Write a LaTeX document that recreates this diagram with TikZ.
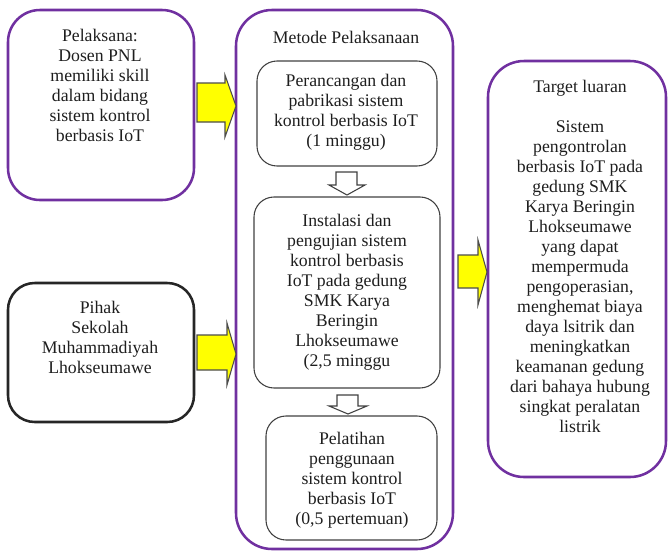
\documentclass[tikz,border=0pt]{standalone}
\usepackage{fontspec}
\setmainfont{Liberation Serif}
\definecolor{boxpurple}{RGB}{112,48,160}
\definecolor{arrowyellow}{RGB}{255,255,0}
\definecolor{txtgray}{RGB}{30,30,30}
\begin{document}
\begin{tikzpicture}[x=0.75pt,y=-0.75pt,
  txt/.style={font=\fontsize{13.3}{15}\selectfont, align=center, inner sep=0pt, anchor=north, text=txtgray},
  purplebox/.style={draw=boxpurple, line width=1.9pt, rounded corners=24pt, inner sep=0pt},
  blackbox/.style={draw=black!85, line width=1.9pt, rounded corners=20pt, inner sep=0pt},
  innerbox/.style={draw=black!75, line width=0.8pt, rounded corners=15pt, inner sep=0pt},
  yarrow/.style={draw=black!70, fill=arrowyellow, line width=0.8pt, line join=miter},
  darrow/.style={draw=black!75, fill=white, line width=0.8pt, line join=miter}]
\useasboundingbox (0,0) rectangle (668,551);
% boxes
\node[purplebox, minimum width=139.5pt, minimum height=142.5pt] (boxA) at (101,105) {};
\node[blackbox, minimum width=139.5pt, minimum height=104.25pt] (boxB) at (101,352.5) {};
\node[purplebox, rounded corners=27pt, minimum width=162.75pt, minimum height=404.25pt] (main) at (344.5,279.5) {};
\node[innerbox, minimum width=135pt, minimum height=78.75pt] (in1) at (347,113.5) {};
\node[innerbox, minimum width=139.5pt, minimum height=143.25pt] (in2) at (347,292.5) {};
\node[innerbox, minimum width=128.25pt, minimum height=93pt] (in3) at (351.5,478) {};
\node[purplebox, rounded corners=27pt, minimum width=133.5pt, minimum height=312pt] (target) at (577,269) {};
% texts
\node[txt] (tA) at (100,29) {Pelaksana:\\Dosen PNL\\memiliki skill\\dalam bidang\\sistem kontrol\\berbasis IoT};
\node[txt] (tB) at (100,301) {Pihak\\Sekolah\\Muhammadiyah\\Lhokseumawe};
\node[txt] (tM) at (346,31) {Metode Pelaksanaan};
\node[txt] (t1) at (346,74) {Perancangan dan\\pabrikasi sistem\\kontrol berbasis IoT\\(1 minggu)};
\node[txt] (t2) at (347,214) {Instalasi dan\\pengujian sistem\\kontrol berbasis\\IoT pada gedung\\SMK Karya\\Beringin\\Lhokseumawe\\(2,5 minggu};
\node[txt] (t3) at (352,432) {Pelatihan\\penggunaan\\sistem kontrol\\berbasis IoT\\(0,5 pertemuan)};
\node[txt] (tT) at (580,80) {Target luaran\\[15pt]Sistem\\pengontrolan\\berbasis IoT pada\\gedung SMK\\Karya Beringin\\Lhokseumawe\\yang dapat\\mempermuda\\pengoperasian,\\menghemat biaya\\daya lsitrik dan\\meningkatkan\\keamanan gedung\\dari bahaya hubung\\singkat peralatan\\listrik};
% yellow block arrows
\draw[yarrow] (197,83) -- (225,83) -- (225,75) -- (236,106) -- (225,137) -- (225,122) -- (197,122) -- cycle;
\draw[yarrow] (197,335) -- (227,335) -- (227,323) -- (236,354) -- (227,385) -- (227,370) -- (197,370) -- cycle;
\draw[yarrow] (458,255) -- (478,255) -- (478,240) -- (487,272) -- (478,305) -- (478,288) -- (458,288) -- cycle;
% hollow down arrows
\draw[darrow] (336,172) -- (357,172) -- (357,185) -- (365,185) -- (347,195) -- (329,185) -- (336,185) -- cycle;
\draw[darrow] (337,395) -- (358,395) -- (358,406) -- (367,406) -- (348,414) -- (329,406) -- (337,406) -- cycle;
\end{tikzpicture}
\end{document}
